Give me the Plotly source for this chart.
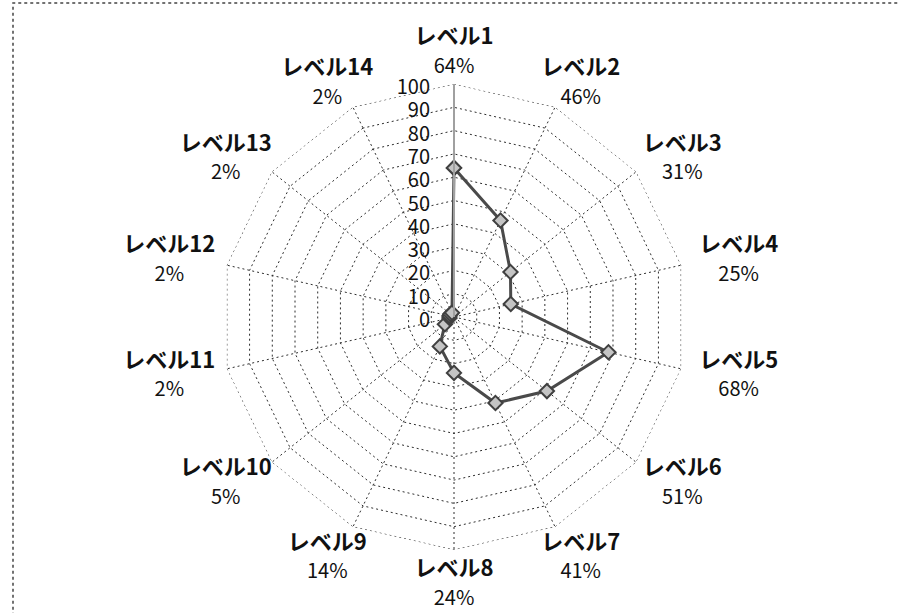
import math
import plotly.graph_objects as go

categories = [f"レベル{i}" for i in range(1, 15)]
values = [64, 46, 31, 25, 68, 51, 41, 24, 14, 5, 2, 2, 2, 2]
radial_ticks = list(range(0, 101, 10))

FONT = "Noto Sans CJK JP"
W, H = 900, 613
cx, cy, R = 454, 317, 233   # main polar centre and radius in px
R2 = 296                    # outer (invisible) polar used only to place the labels (units = px)
GRID = "#2e2e2e"
DASH = "2px,3px"

# label placement: labels are wider than tall, so push them further out horizontally
n = len(categories)
lab_r, lab_t = [], []
for i in range(n):
    th = 2 * math.pi * i / n
    s, c = math.sin(th), math.cos(th)
    ry = (252 + 12 * c ** 6) if c > 0 else 268
    dx, dy = 292 * s, ry * c
    lab_r.append(math.hypot(dx, dy))
    lab_t.append(math.degrees(math.atan2(dx, dy)) % 360)
label_text = [f"<b>{c}</b><br><span style='font-size:20px'>{v}%</span>"
              for c, v in zip(categories, values)]

fig = go.Figure()
# outer frame of the radar (axis maximum), drawn dotted like the other grid lines
fig.add_trace(go.Scatterpolar(
    r=[radial_ticks[-1]] * (n + 1), theta=categories + categories[:1],
    mode="lines", line=dict(color=GRID, width=1, dash=DASH),
    showlegend=False, hoverinfo="skip",
))
fig.add_trace(go.Scatterpolar(
    r=values + values[:1], theta=categories + categories[:1],
    mode="lines+markers",
    line=dict(color="#4a4a4a", width=3),
    marker=dict(symbol="diamond", size=11, color="#c4c4c4",
                line=dict(color="#404040", width=2)),
    showlegend=False, hoverinfo="skip",
))
fig.add_trace(go.Scatterpolar(
    r=lab_r, theta=lab_t, mode="text", text=label_text,
    textfont=dict(family=FONT, size=22, color="#111111"),
    textposition="middle center", cliponaxis=False,
    showlegend=False, hoverinfo="skip", subplot="polar2",
))

def dom(rad):
    return dict(x=[(cx - rad) / W, (cx + rad) / W],
                y=[(H - cy - rad) / H, (H - cy + rad) / H])

fig.update_layout(
    width=W, height=H,
    margin=dict(l=0, r=0, t=0, b=0),
    paper_bgcolor="white", plot_bgcolor="white",
    font=dict(family=FONT, color="#111111"),
    polar=dict(
        domain=dom(R),
        bgcolor="white",
        gridshape="linear",
        radialaxis=dict(
            range=[0, 100.01], tickvals=radial_ticks, angle=90,
            side="counterclockwise",
            showline=True, linecolor="#a0a0a0", linewidth=2,
            gridcolor=GRID, griddash=DASH, gridwidth=1,
            ticks="outside", ticklen=5, tickcolor="rgba(0,0,0,0)",
            tickfont=dict(family=FONT, size=20, color="#111111"),
        ),
        angularaxis=dict(
            categoryorder="array", categoryarray=categories,
            rotation=90, direction="clockwise",
            showticklabels=False, ticks="",
            showline=False,
            gridcolor=GRID, griddash=DASH, gridwidth=1,
        ),
    ),
    polar2=dict(
        domain=dom(R2),
        bgcolor="rgba(0,0,0,0)",
        radialaxis=dict(range=[0, R2], visible=False,
                        showgrid=False, showline=False),
        angularaxis=dict(type="linear", rotation=90, direction="clockwise",
                         visible=False, showgrid=False, showline=False),
    ),
    shapes=[dict(type="rect", xref="paper", yref="paper",
                 x0=13 / W, x1=1.02, y0=-0.02, y1=1 - 3 / H,
                 line=dict(color="#444444", width=1.5, dash="dot"))],
)

fig.write_html("out.html", config={"displayModeBar": False},
               post_script="document.body.style.margin='0';")
